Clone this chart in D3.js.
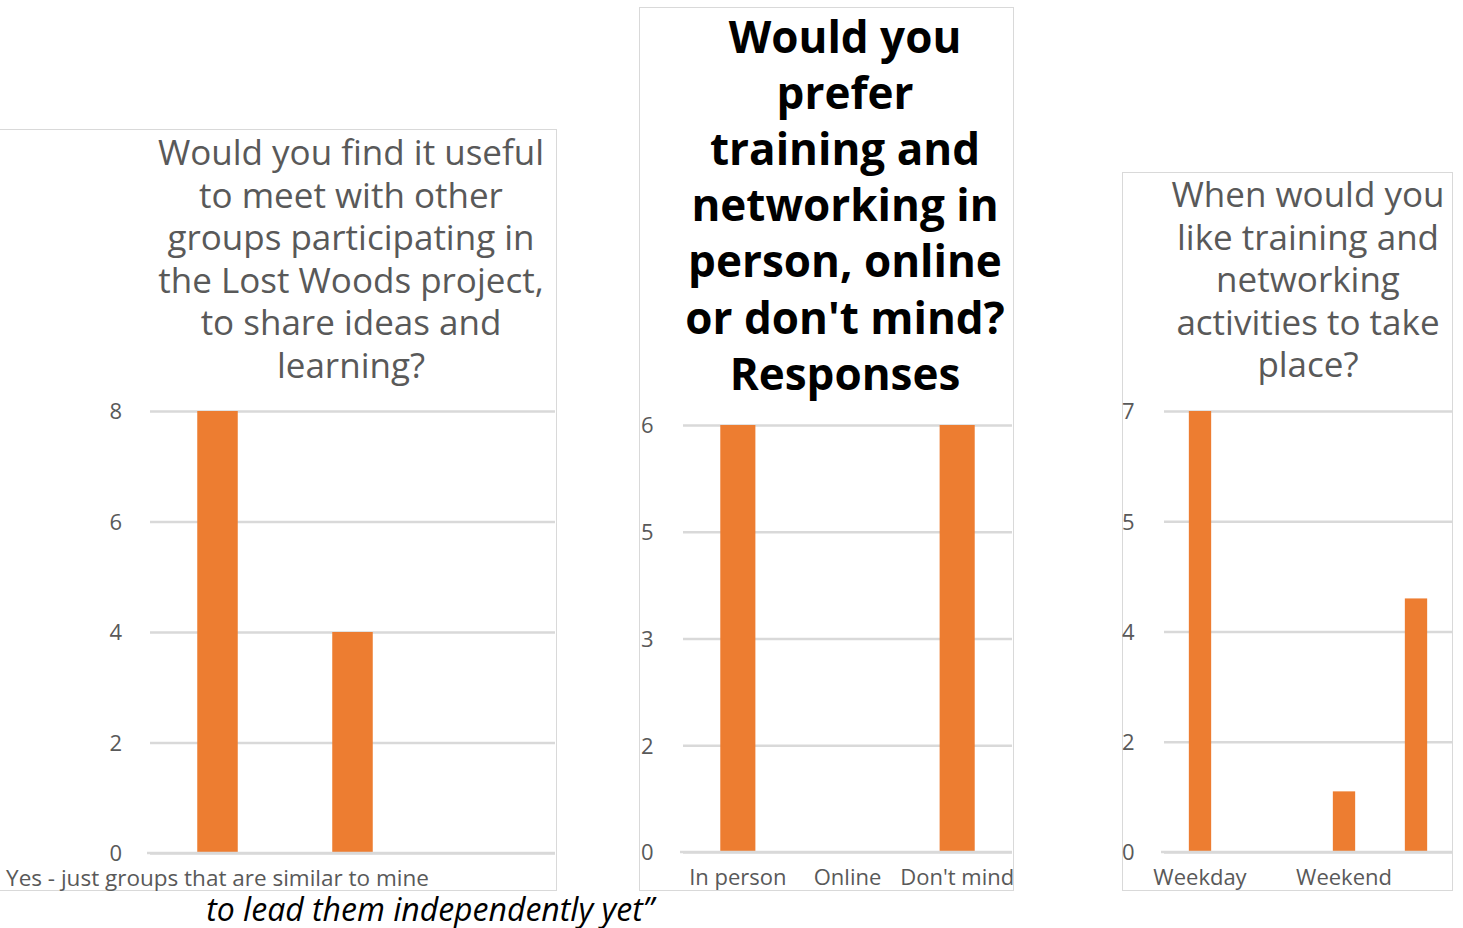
<!DOCTYPE html>
<html>
<head>
<meta charset="utf-8">
<script src="https://cdn.jsdelivr.net/npm/d3@7"></script>
<style>
  body { margin: 0; background: #fff; overflow: hidden; }
  text { font-family: "Open Sans", Lato, sans-serif; }
</style>
</head>
<body>
<div id="chart"></div>
<script>
// chart 1 - meeting other groups
const q1Title = ["Would you find it useful", "to meet with other", "groups participating in",
    "the Lost Woods project,", "to share ideas and", "learning?"];
const q1Categories = ["Yes - just groups that are similar to mine", "", ""];
const q1Values = [8, 4, 0];
const q1Ticks = [0, 2, 4, 6, 8];

// chart 2 - in person / online
const q2Title = ["Would you", "prefer", "training and", "networking in",
    "person, online", "or don't mind?", "Responses"];
const q2Categories = ["In person", "Online", "Don't mind"];
const q2Values = [6, 0, 6];
const q2Ticks = [0, 2, 3, 5, 6];

// chart 3 - when
const q3Title = ["When would you", "like training and", "networking",
    "activities to take", "place?"];
const q3Categories = ["Weekday", "", "Weekend", ""];
const q3Values = [7, 0, 1.1, 4.3];
const q3Ticks = [0, 2, 4, 5, 7];

const quoteText = "to lead them independently yet\u201D";

const orange = "#ED7D31";
const grid = "#d9d9d9";
const grey = "#595959";

const svg = d3.select("#chart")
    .append("svg")
    .attr("width", 1463)
    .attr("height", 928);

const drawChart = (opt) => {
    let g = svg.append("g");

    // frame
    g.append("rect")
        .attr("x", opt.box[0] + 0.5)
        .attr("y", opt.box[1] + 0.5)
        .attr("width", opt.box[2])
        .attr("height", opt.box[3])
        .attr("fill", "#fff")
        .attr("stroke", grid)
        .attr("stroke-width", 1);

    // title
    let title = g.append("text")
        .attr("text-anchor", "middle")
        .attr("font-size", opt.titleSize)
        .attr("font-weight", opt.titleWeight)
        .attr("fill", opt.titleColor);
    title.selectAll("tspan")
        .data(opt.title)
        .enter()
        .append("tspan")
        .attr("x", opt.titleX)
        .attr("y", (d, i) => opt.titleY + i * opt.titleLead)
        .text(d => d);

    // y: evenly spaced gridlines carrying the tick labels
    let n = opt.ticks.length - 1;
    let y = d3.scaleLinear()
        .domain(opt.ticks)
        .range(opt.ticks.map((d, i) => opt.y0 + (opt.yTop - opt.y0) * i / n));

    let x = d3.scaleBand()
        .domain(d3.range(opt.categories.length))
        .range([opt.x0, opt.x1])
        .paddingInner(opt.pad)
        .paddingOuter(opt.pad / 2);

    let yAxis = d3.axisLeft(y)
        .tickValues(opt.ticks)
        .tickSize(opt.x0 - opt.x1)
        .tickFormat(d3.format("d"));

    let ya = g.append("g")
        .attr("transform", "translate(" + opt.x0 + ",0)")
        .call(yAxis);
    ya.select(".domain").remove();
    ya.selectAll(".tick line")
        .attr("stroke", grid)
        .attr("stroke-width", 2.5);
    ya.selectAll(".tick text")
        .attr("x", opt.tickX - opt.x0)
        .attr("text-anchor", opt.tickAnchor)
        .attr("dy", "0.36em")
        .attr("font-size", 22)
        .attr("font-family", "'Open Sans', sans-serif")
        .attr("fill", grey);

    g.selectAll(".bar")
        .data(opt.values)
        .enter()
        .append("rect")
        .attr("class", "bar")
        .attr("x", (d, i) => x(i))
        .attr("width", x.bandwidth())
        .attr("y", d => y(d))
        .attr("height", d => y(0) - y(d))
        .attr("fill", orange);

    let xAxis = d3.axisBottom(x)
        .tickSize(0)
        .tickFormat(i => opt.categories[i]);

    let xa = g.append("g")
        .attr("transform", "translate(0," + opt.y0 + ")")
        .call(xAxis);
    xa.select(".domain")
        .attr("d", "M" + (opt.x0 - 3) + ",0H" + opt.x1)
        .attr("stroke", grid)
        .attr("stroke-width", 2.5);
    xa.selectAll(".tick text")
        .attr("y", 25)
        .attr("dy", "0.36em")
        .attr("font-size", opt.catSize)
        .attr("font-family", "'Open Sans', sans-serif")
        .attr("fill", grey);
};

drawChart({
    box: [-10, 129, 566, 761],
    title: q1Title, titleX: 351, titleY: 165, titleLead: 42.6,
    titleSize: 35, titleWeight: "normal", titleColor: grey,
    categories: q1Categories, values: q1Values, ticks: q1Ticks, catSize: 22.5,
    x0: 150, x1: 555, y0: 853, yTop: 411, pad: 0.7,
    tickX: 122, tickAnchor: "end"
});

drawChart({
    box: [639, 7, 374, 883],
    title: q2Title, titleX: 845, titleY: 53, titleLead: 56.1,
    titleSize: 44, titleWeight: "bold", titleColor: "#000",
    categories: q2Categories, values: q2Values, ticks: q2Ticks, catSize: 22,
    x0: 683, x1: 1012, y0: 852, yTop: 425, pad: 0.68,
    tickX: 641, tickAnchor: "start"
});

drawChart({
    box: [1122, 172, 330, 718],
    title: q3Title, titleX: 1308, titleY: 207, titleLead: 42.6,
    titleSize: 35, titleWeight: "normal", titleColor: grey,
    categories: q3Categories, values: q3Values, ticks: q3Ticks, catSize: 22,
    x0: 1164, x1: 1452, y0: 852, yTop: 411, pad: 0.69,
    tickX: 1122, tickAnchor: "start"
});

svg.append("text")
    .attr("x", 430)
    .attr("y", 921)
    .attr("text-anchor", "middle")
    .attr("font-size", 32)
    .attr("font-style", "italic")
    .attr("fill", "#000")
    .text(quoteText);
</script>
</body>
</html>
